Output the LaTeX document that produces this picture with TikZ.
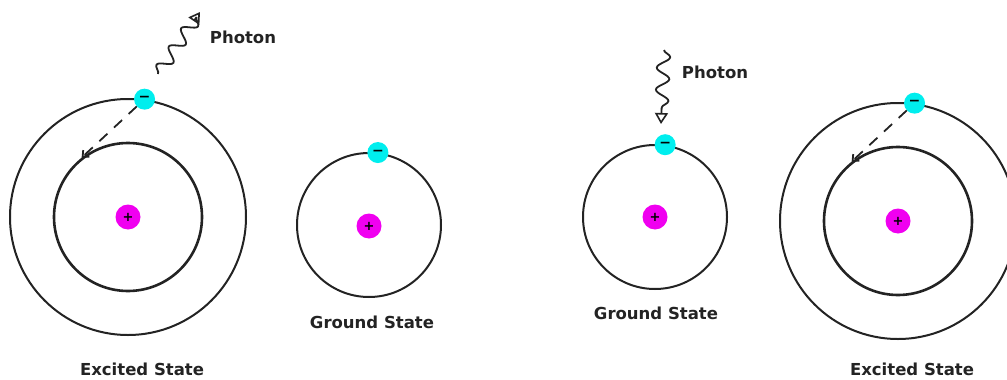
\documentclass[tikz,border=0pt]{standalone}
\usepackage{fontspec}
\setmainfont{DejaVu Sans}
\usetikzlibrary{arrows.meta,decorations.pathmorphing}
\definecolor{ink}{RGB}{35,35,35}
\definecolor{ecyan}{RGB}{0,238,238}
\definecolor{pmag}{RGB}{240,0,240}
\begin{document}
\begin{tikzpicture}[x=1pt,y=-1pt,
  outerorbit/.style={circle, draw=ink, line width=2pt, inner sep=0pt, minimum size=#1},
  innerorbit/.style={circle, draw=ink, line width=2.6pt, inner sep=0pt, minimum size=#1},
  nucleus/.style={circle, fill=pmag, inner sep=0pt, minimum size=25pt, text=black,
    font=\bfseries\fontsize{13}{13}\selectfont},
  electron/.style={circle, fill=ecyan, inner sep=0pt, minimum size=21pt, text=black,
    font=\bfseries\fontsize{14}{14}\selectfont},
  jump/.style={ink, line width=1.8pt, dash pattern=on 11pt off 9pt,
    -{Straight Barb[length=5pt,width=9pt]}},
  photon/.style={ink, line width=1.8pt, decorate,
    decoration={snake, amplitude=6.5pt, segment length=22pt, post length=6pt},
    -{Triangle[open, length=11pt, width=13pt, line width=1.6pt]}},
  caption/.style={text=ink, font=\bfseries\fontsize{16.5}{18}\selectfont, inner sep=0pt}]
\useasboundingbox (0,0) rectangle (1007,380);

% ---- Excited state (left)
\node[outerorbit=236pt] (outA) at (128,217) {};
\node[innerorbit=148pt] (inA) at (128,217) {};
\node[nucleus] (nA) at (128,217) {+};
\node[electron] (eA) at (outA.82) {−};
\draw[jump] (eA) -- (inA.128);
\coordinate (pA0) at (158,74);
\coordinate (pA1) at (200,12);
\draw[photon] (pA0) -- (pA1);
\node[caption] (tpA) at (243,37) {Photon};
\node[caption] (cA) at (142,369) {Excited State};

% ---- Ground state (left)
\node[outerorbit=144pt] (outB) at (369,225) {};
\node[nucleus] (nB) at (369,226) {+};
\node[electron] (eB) at (outB.83) {−};
\node[caption] (cB) at (372,322) {Ground State};

% ---- Ground state (right)
\node[outerorbit=144pt] (outC) at (655,217) {};
\node[nucleus] (nC) at (655,217) {+};
\node[electron] (eC) at (outC.82) {−};
\coordinate (pC0) at (664,50);
\coordinate (pC1) at (661,124);
\draw[photon] (pC0) -- (pC1);
\node[caption] (tpC) at (715,72) {Photon};
\node[caption] (cC) at (656,313) {Ground State};

% ---- Excited state (right)
\node[outerorbit=236pt] (outD) at (898,221) {};
\node[innerorbit=148pt] (inD) at (898,221) {};
\node[nucleus] (nD) at (898,221) {+};
\node[electron] (eD) at (outD.82) {−};
\draw[jump] (eD) -- (inD.128);
\node[caption] (cD) at (912,369) {Excited State};
\end{tikzpicture}
\end{document}
